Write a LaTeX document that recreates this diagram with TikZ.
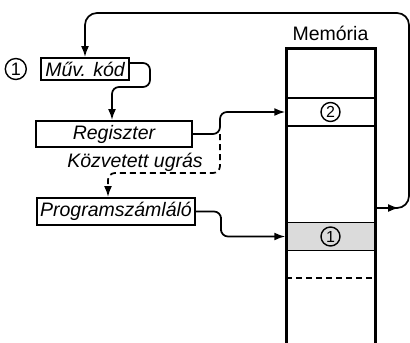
\documentclass[tikz,border=0pt]{standalone}
\usepackage{fontspec}
\setmainfont{Liberation Sans}
\usetikzlibrary{positioning,arrows.meta,calc}
\tikzset{
  regbox/.style={draw, line width=2pt, inner sep=0pt, font=\fontsize{19.5}{21}\selectfont\itshape},
  sig/.style={-{Latex[length=11pt,width=8pt]}, line width=1.7pt, rounded corners=7pt},
  cell/.style={draw, line width=1.5pt, minimum width=89pt, minimum height=28pt, inner sep=0pt},
  num/.style={draw, circle, line width=1.4pt, inner sep=0pt, minimum size=19pt, font=\fontsize{16}{17}\selectfont},
}

\begin{document}
\begin{tikzpicture}[x=1pt, y=-1pt]
  \useasboundingbox (0,0) rectangle (410,343);
  % registers
  \node[regbox, minimum width=88pt, minimum height=22pt] (muv) at (85,69) {Műv. kód};
  \node[num, minimum size=21pt, font=\fontsize{18}{19}\selectfont, left=13pt of muv] (n1) {1};
  \node[regbox, minimum width=156pt, minimum height=26pt] (reg) at (114,134) {Regiszter};
  \node[font=\fontsize{19.5}{21}\selectfont\itshape] (kozv) at (135,162) {Közvetett ugrás};
  \node[regbox, minimum width=158pt, minimum height=27pt] (pc) at (116,211.5) {Programszámláló};
  % memory
  \node[cell] (cell2) at (330.5,112) {};
  \node[cell, fill=gray!28] (cell1) at (330.5,236.5) {};
  \node[num] (m2) at (cell2) {2};
  \node[num] (m1) at (cell1) {1};
  \draw[line width=1.5pt, dash pattern=on 6pt off 4pt] (286,278) -- (375,278);
  \draw[line width=3pt] (286,343) -- (286,48) -- (375,48) -- (375,343);
  \node[font=\fontsize{19.5}{21}\selectfont] (memlbl) at (330.5,33) {Memória};
  \coordinate (memout) at (376.5,208);
  \coordinate (jct) at (220,134);
  % connectors
  \draw[sig] ([yshift=6pt]muv.east) -| (150,87) -| ([xshift=-2pt]reg.north);
  \draw[sig] (reg.east) -- (jct) |- (cell2.west);
  \draw[sig, dash pattern=on 6pt off 4pt] (jct) |- (150,173) -| ([xshift=-8pt]pc.north);
  \draw[sig] (pc.east) -| (221,224) |- (cell1.west);
  \draw[sig, rounded corners=12pt] (memout) -- (409,208) |- (85,13) -- (muv.north);
  \draw[sig, rounded corners=0pt] (memout) -- (399,208);
\end{tikzpicture}
\end{document}
